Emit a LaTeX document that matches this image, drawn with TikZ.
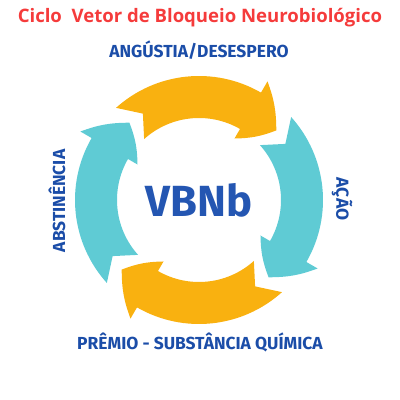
\documentclass[tikz,border=0pt]{standalone}
\usepackage{fontspec}
\setmainfont{Fira Sans}
\newfontfamily\titlefont{Open Sans}
\definecolor{arrorange}{HTML}{F9B110}
\definecolor{arrcyan}{HTML}{5FCBD4}
\definecolor{titlered}{HTML}{F53B3B}
\definecolor{labelblue}{HTML}{1B4DA8}
\definecolor{vbnblue}{HTML}{2456B2}
\begin{document}
\begin{tikzpicture}[x=0.025cm,y=0.025cm,cyclelabel/.style={text=labelblue,font=\bfseries\fontsize{12.4}{14}\selectfont,inner sep=0pt}]
\useasboundingbox (-199,-200) rectangle (201,200);
\foreach \r/\c in {0/arrorange,-90/arrcyan,180/arrorange,90/arrcyan}
{
\begin{scope}[rotate=\r]
\fill[\c] (132:124) arc[start angle=132,end angle=60,radius=124] -- (60:137) to[bend left=10] (42:104) to[bend left=10] (60:71) -- (60:82) arc[start angle=60,end angle=132,radius=82] -- (123:103) -- cycle;
\end{scope}
}
\node[text=titlered,font=\titlefont\bfseries\fontsize{13.2}{15}\selectfont,inner sep=0pt] (title) at (1,182) {Ciclo\ \ Vetor de Bloqueio Neurobiológico};
\node[cyclelabel] (angustia) at (0,150) {ANGÚSTIA/DESESPERO};
\node[cyclelabel] (premio) at (1,-142) {PRÊMIO - SUBSTÂNCIA QUÍMICA};
\node[cyclelabel,rotate=90] (abstinencia) at (-142,-1) {ABSTINÊNCIA};
\node[cyclelabel,rotate=-90] (acao) at (143,1) {AÇÃO};
\node[text=vbnblue,font=\bfseries\fontsize{31}{33}\selectfont,inner sep=0pt] (vbnb) at (0,0) {VBNb};
\end{tikzpicture}
\end{document}
